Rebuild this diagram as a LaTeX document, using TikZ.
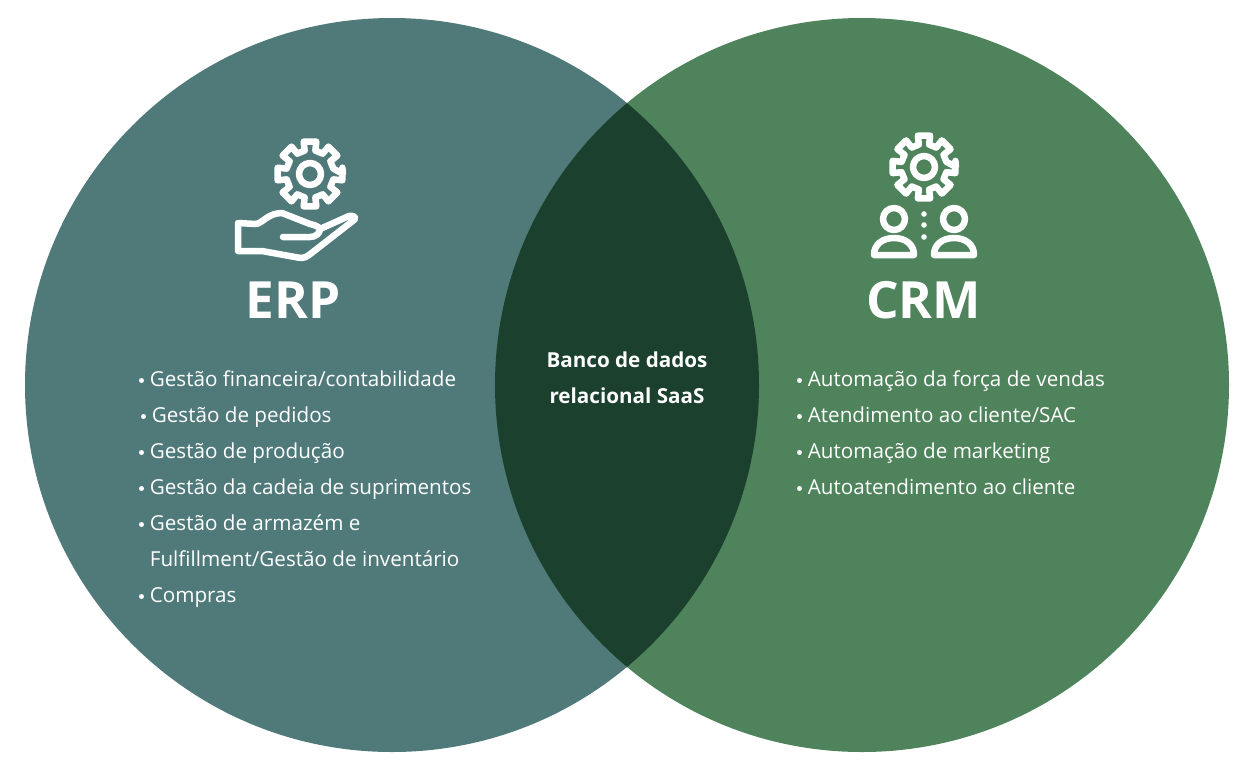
\documentclass[tikz,border=0pt]{standalone}
\usepackage{fontspec}
\setmainfont{Open Sans}
\usetikzlibrary{positioning}
\definecolor{erpcol}{HTML}{507A7A}
\definecolor{crmcol}{HTML}{4E835B}
\definecolor{sharedcol}{HTML}{1B402E}
\tikzset{
  item/.style={anchor=base west,inner sep=0pt,text=white,font=\fontsize{11.75}{14}\selectfont},
  title/.style={anchor=base,inner sep=0pt,text=white,font=\fontsize{29.2}{32}\selectfont\bfseries},
  shared/.style={anchor=base,inner sep=0pt,text=white,font=\fontsize{11.75}{14}\selectfont\bfseries},
  icon/.style={draw=white,line width=3.7pt,line join=round,line cap=round},
}
% gear at #1, outer radius #2, root radius #3, hub radius #4
\newcommand{\gearicon}[4]{
  \draw[icon,shift={#1}] (0:#2) \foreach \a in {0,45,...,315} {
      -- ({\a-11}:#2) -- ({\a+11}:#2) -- ({\a+13}:#3) -- ({\a+32}:#3)
    } -- cycle;
  \draw[icon,shift={#1}] (0,0) circle (#4);
}
\newcommand{\personicon}[1]{
  \draw[icon,shift={#1}] (0,-36) circle (11);
  \draw[icon,shift={#1}] (-20,0) .. controls (-20,-11) and (-11,-17) .. (0,-17)
     .. controls (11,-17) and (20,-11) .. (20,0) -- cycle;
}
\begin{document}
\begin{tikzpicture}[x=0.02cm,y=-0.02cm]
  \useasboundingbox (0,0) rectangle (1248,772);
  \fill[white] (0,0) rectangle (1248,772);
  \fill[erpcol] (392,385) circle (367);
  \fill[crmcol] (862,385) circle (367);
  \begin{scope}
    \clip (392,385) circle (367);
    \fill[sharedcol] (862,385) circle (367);
  \end{scope}

  % erp icon
  \gearicon{(310,174)}{33}{24}{11}
  \draw[icon] (238,223) -- (256,224) .. controls (263,223) and (268,213) .. (282,213)
     -- (310,224) .. controls (317,225) and (321,229) .. (320,229)
     -- (349,216) .. controls (354,215) and (357,218) .. (354,220)
     -- (309,255) .. controls (304,259) and (300,258) .. (295,257)
     -- (262,251) -- (238,251) -- cycle;
  \draw[icon] (283,237) -- (310,237) .. controls (316,237) and (320,233) .. (320,229);

  % crm icon
  \gearicon{(924,167)}{32}{23}{11}
  \personicon{(894,255)}
  \personicon{(954,255)}
  \foreach \y in {214,225,237} {
    \fill[white] (924,\y) circle (2.8);
  }

  \node[title] (erp) at (293,318) {ERP};
  \node[title] (crm) at (923.5,318) {CRM};

  \node[shared] (db1) at (627,367) {Banco de dados};
  \node[shared] (db2) at (627,403) {relacional SaaS};

  \foreach \x/\y/\t/\n in {
      149.5/386.5/Gestão financeira\slash contabilidade/a,
      151.5/422.5/Gestão de pedidos/b,
      149.5/458.5/Gestão de produção/c,
      149.5/494.5/Gestão da cadeia de suprimentos/d,
      149.5/530.5/Gestão de armazém e/e,
      149.5/602.5/Compras/g,
      807.5/386.5/Automação da força de vendas/h,
      807.5/422.5/Atendimento ao cliente\slash SAC/i,
      807.5/458.5/Automação de marketing/j,
      807.5/494.5/Autoatendimento ao cliente/k} {
    \node[item] (item\n) at (\x,\y) {\t};
    \fill[white] (\x-8,\y-6) circle (2.5);
  }
  \node[item] (itemf) at (149.5,566.5) {Fulfillment\slash Gestão de inventário};
\end{tikzpicture}
\end{document}
